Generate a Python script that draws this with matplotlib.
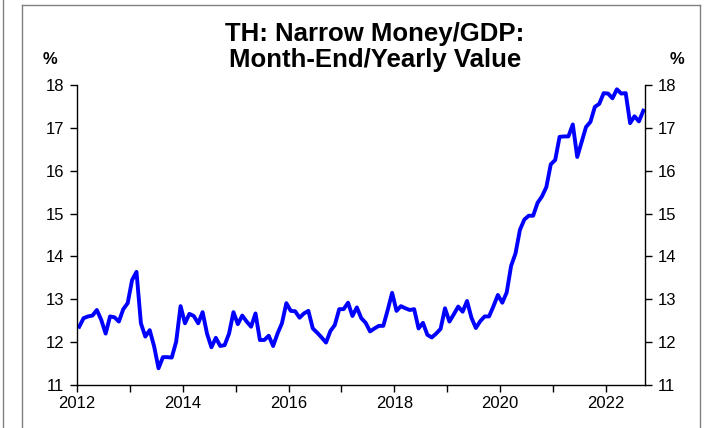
import numpy as np
import matplotlib.pyplot as plt
from matplotlib.lines import Line2D
from matplotlib.ticker import MultipleLocator, FuncFormatter

plt.rcParams['font.family'] = ['Liberation Sans', 'DejaVu Sans']

# Monthly narrow money / GDP, Jan 2012 - Sep 2022 (%)
values = [
    12.36, 12.56, 12.60, 12.62, 12.75, 12.52, 12.20, 12.60, 12.58, 12.48, 12.77, 12.91,
    13.45, 13.64, 12.44, 12.13, 12.28, 11.90, 11.39, 11.65, 11.65, 11.64, 12.01, 12.84,
    12.44, 12.66, 12.61, 12.44, 12.70, 12.20, 11.88, 12.10, 11.91, 11.93, 12.20, 12.70,
    12.42, 12.62, 12.48, 12.36, 12.67, 12.05, 12.05, 12.15, 11.91, 12.20, 12.44, 12.91,
    12.73, 12.72, 12.57, 12.67, 12.73, 12.32, 12.22, 12.11, 11.99, 12.26, 12.40, 12.77,
    12.77, 12.92, 12.61, 12.81, 12.56, 12.45, 12.25, 12.32, 12.38, 12.38, 12.75, 13.15,
    12.73, 12.84, 12.79, 12.75, 12.77, 12.32, 12.45, 12.17, 12.11, 12.20, 12.31, 12.79,
    12.48, 12.65, 12.83, 12.71, 12.96, 12.57, 12.33, 12.49, 12.60, 12.60, 12.84, 13.10,
    12.92, 13.16, 13.78, 14.07, 14.62, 14.86, 14.95, 14.95, 15.25, 15.40, 15.62, 16.15,
    16.25, 16.79, 16.80, 16.80, 17.08, 16.32, 16.67, 17.02, 17.14, 17.49, 17.56, 17.81,
    17.80, 17.69, 17.90, 17.80, 17.81, 17.11, 17.27, 17.15, 17.40,
]
start_year = 2012
dates = start_year + (np.arange(len(values)) + 0.5) / 12

title = 'TH: Narrow Money/GDP:\nMonth-End/Yearly Value'

fig = plt.figure(figsize=(7.04, 4.28), dpi=100)
ax = fig.add_axes([77 / 704, 1 - 385 / 428, (645 - 77) / 704, 300 / 428])

ax.plot(dates, values, color='#0000ff', lw=2.8, solid_joinstyle='round')

ax.set_xlim(2012, 2022.74)
ax.set_ylim(11, 18)
ax.xaxis.set_major_locator(MultipleLocator(1))
ax.xaxis.set_major_formatter(FuncFormatter(lambda v, p: f'{int(round(v))}' if int(round(v)) % 2 == 0 else ''))
ax.yaxis.set_major_locator(MultipleLocator(1))
ax.tick_params(axis='both', direction='out', length=5, width=1, labelsize=12, colors='black')
ax.tick_params(axis='y', left=True, right=True, labelleft=True, labelright=True, pad=4)
ax.tick_params(axis='x', pad=3)
ax.spines['top'].set_visible(False)
for s in ['left', 'right', 'bottom']:
    ax.spines[s].set_linewidth(1)

fig.text(375 / 704, 1 - 47 / 428, title, ha='center', va='center',
         fontsize=18.5, fontweight='bold', linespacing=1.12)
fig.text(50 / 704, 1 - 60 / 428, '%', ha='center', va='center', fontsize=12, fontweight='bold')
fig.text(677 / 704, 1 - 60 / 428, '%', ha='center', va='center', fontsize=12, fontweight='bold')

# panel frame
frame = '#808080'
fig.add_artist(Line2D([22 / 704, 22 / 704], [0, 1 - 5 / 428], color=frame, lw=1))
fig.add_artist(Line2D([22 / 704, 700 / 704], [1 - 5 / 428, 1 - 5 / 428], color=frame, lw=1))
fig.add_artist(Line2D([700 / 704, 700 / 704], [0, 1 - 5 / 428], color=frame, lw=1))
fig.add_artist(Line2D([3 / 704, 3 / 704], [0, 1], color=frame, lw=1))

fig.savefig('out.png', dpi=100)
